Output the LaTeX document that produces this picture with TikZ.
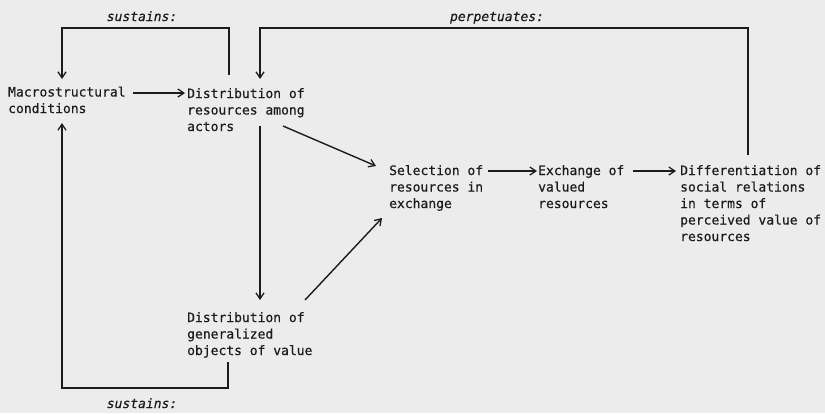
\documentclass[tikz,border=0pt]{standalone}
\usepackage{fontspec}
\setmainfont{DejaVu Sans Mono}[FakeBold=0.5]
\usetikzlibrary{arrows.meta}
\definecolor{paper}{RGB}{236,236,236}
\definecolor{ink}{RGB}{28,28,28}
\begin{document}
\begin{tikzpicture}[x=1pt,y=-1pt,
  box/.style={anchor=base west, align=left, inner sep=0pt,
    font=\fontsize{13}{16.5}\selectfont, text=ink},
  tag/.style={anchor=base, inner sep=0pt,
    font=\fontsize{13}{16}\selectfont\itshape, text=ink},
  link/.style={draw=ink, line width=1.4pt,
    -{Straight Barb[length=6pt,width=8pt,line width=1.3pt]}},
  wire/.style={draw=ink, line width=1.4pt}]
\useasboundingbox (0,0) rectangle (825,413);
\fill[paper] (0,0) rectangle (825,413);

% stages of the process (anchored at the baseline of the last line)
\node[box] (macro) at (8,113)   {Macrostructural\\conditions};
\node[box] (dist)  at (187,131) {Distribution of\\resources among\\actors};
\node[box] (gen)   at (187,355) {Distribution of\\generalized\\objects of value};
\node[box] (sel)   at (389,208) {Selection of\\resources in\\exchange};
\node[box] (exch)  at (538,208) {Exchange of\\valued\\resources};
\node[box] (diff)  at (680,241) {Differentiation of\\social relations\\in terms of\\perceived value of\\resources};

% feedback labels
\node[tag] (sustop) at (142,21)  {sustains:};
\node[tag] (perp)   at (497,21)  {perpetuates:};
\node[tag] (susbot) at (142,408) {sustains:};

% corners and ends of the connectors
\coordinate (m0) at (133,93);  \coordinate (m1) at (185,93);
\coordinate (s0) at (229,75);  \coordinate (s1) at (229,28);
\coordinate (s2) at (62,28);   \coordinate (s3) at (62,79);
\coordinate (p0) at (748,155); \coordinate (p1) at (748,28);
\coordinate (p2) at (260,28);  \coordinate (p3) at (260,79);
\coordinate (d0) at (260,126); \coordinate (d1) at (260,300);
\coordinate (a0) at (283,126); \coordinate (a1) at (376,166);
\coordinate (g0) at (305,300); \coordinate (g1) at (382,218);
\coordinate (b0) at (228,362); \coordinate (b1) at (228,388);
\coordinate (b2) at (62,388);  \coordinate (b3) at (62,123);
\coordinate (e0) at (488,171); \coordinate (e1) at (537,171);
\coordinate (f0) at (633,171); \coordinate (f1) at (676,171);

% forward flow
\draw[link] (m0) -- (m1);
\draw[link] (d0) -- (d1);
\draw[link] (a0) -- (a1);
\draw[link] (g0) -- (g1);
\draw[link] (e0) -- (e1);
\draw[link] (f0) -- (f1);

% feedback loops
\draw[link] (s0) -- (s1) -- (s2) -- (s3);
\draw[link] (p0) -- (p1) -- (p2) -- (p3);
\draw[link] (b0) -- (b1) -- (b2) -- (b3);
\end{tikzpicture}
\end{document}
